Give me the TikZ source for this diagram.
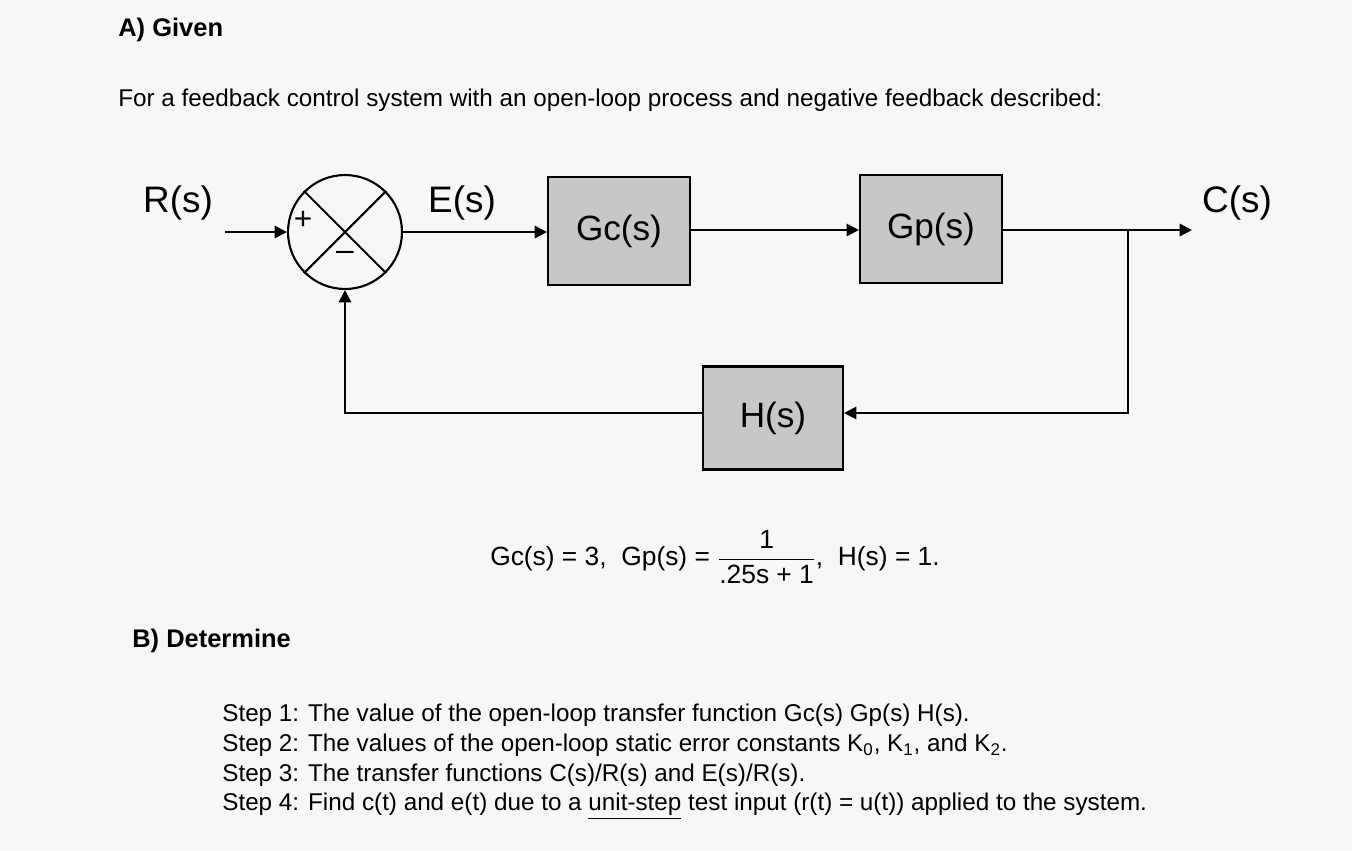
\documentclass[tikz,border=0pt]{standalone}
\usepackage{fontspec}
\setmainfont{Liberation Sans}
\usetikzlibrary{arrows.meta}
\begin{document}
\begin{tikzpicture}[x=0.02cm,y=-0.02cm,
  blk/.style={draw,line width=1.2pt,fill=black!22,minimum width=2.84cm,minimum height=2.16cm,font=\fontsize{20}{24}\selectfont},
  ln/.style={line width=1.2pt},
  arr/.style={ln,-{Triangle[length=7pt,width=7pt]}},
  txt/.style={anchor=west,inner sep=0pt,font=\fontsize{13.8}{17}\selectfont},
  lbl/.style={font=\fontsize{21}{24}\selectfont,inner sep=0pt}]
\useasboundingbox[fill=black!3] (0,0) rectangle (1352,850);
\node[txt,font=\fontsize{14.5}{17}\bfseries] (ta) at (118,30) {A) Given};
\node[txt] (tb) at (118,100) {For a feedback control system with an open-loop process and negative feedback described:};
\node[draw,circle,line width=1.2pt,minimum size=2.28cm,inner sep=0pt] (sum) at (345,232) {};
\draw[ln] (sum.north west) -- (sum.south east) (sum.north east) -- (sum.south west);
\node[lbl,font=\fontsize{18}{20}\selectfont] (plus) at (303,220) {+};
\node[lbl,font=\fontsize{18}{20}\selectfont] (minus) at (345,256) {--};
\node[blk] (gc) at (619,231) {Gc(s)};
\node[blk] (gp) at (931,229) {Gp(s)};
\node[blk,minimum width=2.8cm,minimum height=2.06cm] (h) at (773,418) {H(s)};
\node[lbl] (r) at (178,203) {R(s)};
\node[lbl] (e) at (462,203) {E(s)};
\node[lbl] (c) at (1237,203) {C(s)};
\coordinate (rin) at (225,232);
\coordinate (cout) at (1192,230);
\coordinate (br) at (1128,230);
\coordinate (brd) at (1128,413);
\coordinate (fl) at (345,413);
\draw[arr] (rin) -- (sum.west);
\draw[arr] (sum.east) -- (gc.west |- sum.east);
\draw[arr] (gc.east |- 0,230) -- (gp.west |- 0,230);
\draw[arr] (gp.east |- 0,230) -- (cout);
\draw[arr] (br) -- (brd) -- (h.east |- brd);
\draw[arr] (h.west |- fl) -- (fl) -- (sum.south);
\node[inner sep=0pt,font=\fontsize{15}{18}\selectfont] (eq) at (715,557) {Gc(s) = 3,\ \ Gp(s) = $\displaystyle\frac{\mbox{1}}{\mbox{.25s + 1}}$, \ H(s) = 1.};
\node[txt,font=\fontsize{14.5}{17}\bfseries] (td) at (132,641) {B) Determine};
\node[txt] (s1) at (222,715) {Step 1: The value of the open-loop transfer function Gc(s) Gp(s) H(s).};
\node[txt] (s2) at (222,745) {Step 2: The values of the open-loop static error constants K\textsubscript{0}, K\textsubscript{1}, and K\textsubscript{2}.};
\node[txt] (s3) at (222,775) {Step 3: The transfer functions C(s)/R(s) and E(s)/R(s).};
\node[txt] (s4) at (222,806) {Step 4: Find c(t) and e(t) due to a \underline{unit-step} test input (r(t) = u(t)) applied to the system.};
\end{tikzpicture}
\end{document}
